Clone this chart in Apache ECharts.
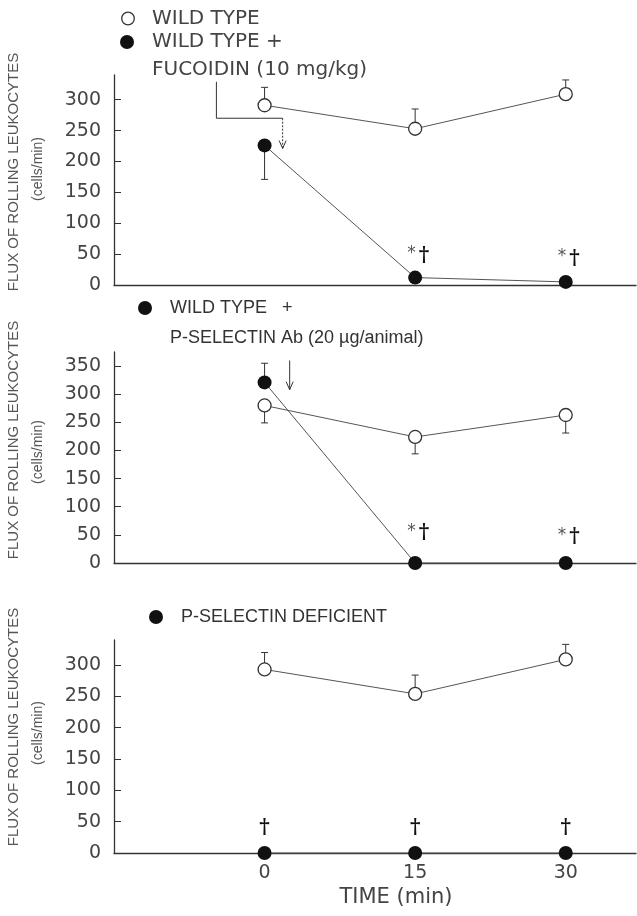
<!DOCTYPE html>
<html><head><meta charset="utf-8">
<script src="https://cdn.jsdelivr.net/npm/echarts@6/dist/echarts.min.js"></script>
<style>html,body{margin:0;padding:0;background:#fff}#c{width:637px;height:916px}</style>
</head><body><div id="c"></div>
<script>
// ---------- data ----------
const times = [0, 15, 30];
const yTicksA = [0, 50, 100, 150, 200, 250, 300];
const yTicksB = [0, 50, 100, 150, 200, 250, 300, 350];
const xTickLabels = [0, 15, 30];
// Panel A: wild type vs wild type + fucoidin
const wildTypeA = [291, 253, 309];
const wildTypeAErr = [320, 285, 332];
const fucoidin = [226, 12, 5];
const fucoidinErr = [171, null, null];
const marksA = [null, '*†', '*†'];
const marksAY = [null, 48, 43];
// Panel B: wild type vs wild type + P-selectin Ab
const wildTypeB = [280, 224, 263];
const wildTypeBErr = [249, 194, 231];
const pselAb = [321, 0, 0];
const pselAbErr = [355, null, null];
const marksB = [null, '*†', '*†'];
const marksBY = [null, 53, 46];
// Panel C: wild type vs P-selectin deficient
const wildTypeC = [293, 254, 309];
const wildTypeCErr = [320, 284, 333];
const pselDef = [0, 0, 0];
const marksC = ['†', '†', '†'];
const marksCY = [40, 40, 40];
// injection arrows (time, value)
const arrowAX = [-4.8, -4.8, 1.8, 1.8];
const arrowAY = [329, 270, 270, 221];
const arrowBX = [2.5, 2.5];
const arrowBY = [360, 308];

// ---------- styles ----------
const INK = '#333';
const TXT = '#444';
const tickFont = { fontFamily: 'DejaVu Sans', fontSize: 19, color: TXT };

const grids = [
  { left: 114, right: 1, top: 75, height: 210 },
  { left: 114, right: 1, top: 352, height: 211 },
  { left: 114, right: 1, top: 640, height: 213 }
];

function xAxisFor(i, showLabels) {
  return {
    type: 'value', gridIndex: i, min: -15, max: 37, interval: 15,
    axisLine: { show: true, onZero: false, lineStyle: { color: INK, width: 1.3 } },
    axisTick: { show: false },
    splitLine: { show: false },
    axisLabel: showLabels ? Object.assign({
      show: true, margin: 11, customValues: xTickLabels,
      formatter: v => (xTickLabels.indexOf(v) >= 0 ? String(v) : '')
    }, tickFont) : { show: false }
  };
}
function yAxisFor(i, max, ticks) {
  return {
    type: 'value', gridIndex: i, min: 0, max: max, interval: 50,
    axisLine: { show: true, onZero: false, lineStyle: { color: INK, width: 1.3 } },
    axisTick: { show: true, inside: true, length: 7, customValues: ticks, lineStyle: { color: INK, width: 1 } },
    splitLine: { show: false },
    axisLabel: Object.assign({
      show: true, margin: 13, customValues: ticks,
      formatter: v => (ticks.indexOf(v) >= 0 ? String(v) : '')
    }, tickFont)
  };
}

function lineSeries(i, vals, filled) {
  return {
    type: 'line', xAxisIndex: i, yAxisIndex: i, z: 4, clip: false,
    data: times.map((t, k) => [t, vals[k]]),
    symbol: 'circle', symbolSize: filled ? 14 : 13, showAllSymbol: true,
    itemStyle: filled ? { color: '#111', borderWidth: 0 } : { color: '#fff', borderColor: INK, borderWidth: 1.3 },
    lineStyle: { color: '#555', width: 1 },
    emphasis: { disabled: true }, silent: true
  };
}

function errSeries(i, vals, errs) {
  const d = [];
  times.forEach((t, k) => { if (errs[k] != null) d.push([t, vals[k], errs[k]]); });
  return {
    type: 'custom', xAxisIndex: i, yAxisIndex: i, z: 2, silent: true, clip: false,
    data: d,
    renderItem: (params, api) => {
      const p0 = api.coord([api.value(0), api.value(1)]);
      const p1 = api.coord([api.value(0), api.value(2)]);
      const w = 3.5;
      return { type: 'group', children: [
        { type: 'line', shape: { x1: p0[0], y1: p0[1], x2: p1[0], y2: p1[1] }, style: { stroke: INK, lineWidth: 1 } },
        { type: 'line', shape: { x1: p1[0] - w, y1: p1[1], x2: p1[0] + w, y2: p1[1] }, style: { stroke: INK, lineWidth: 1 } }
      ]};
    }
  };
}

function markSeries(i, labels, ys) {
  const d = [], lab = [];
  times.forEach((t, k) => { if (labels[k]) { d.push([t, ys[k]]); lab.push(labels[k]); } });
  return {
    type: 'custom', xAxisIndex: i, yAxisIndex: i, z: 5, silent: true, clip: false,
    data: d,
    renderItem: (params, api) => {
      const p = api.coord([api.value(0), api.value(1)]);
      const s = lab[params.dataIndex];
      const txt = s.indexOf('*') >= 0 ? '{a|*}{d|†}' : '{d|†}';
      return { type: 'text', x: p[0] + (s.length > 1 ? 3 : 0), y: p[1], style: {
        text: txt, align: 'center', verticalAlign: 'middle',
        rich: {
          a: { fontFamily: 'DejaVu Sans', fontSize: 17, fill: '#555', padding: [0, 3, 4, 0] },
          d: { fontFamily: 'DejaVu Serif', fontSize: 20, fill: '#111', fontWeight: 'bold' }
        }
      }};
    }
  };
}

function arrowSeries(i, xs, ys, dashLast) {
  return {
    type: 'custom', xAxisIndex: i, yAxisIndex: i, z: 3, silent: true, clip: false,
    data: [[xs[0], ys[0]]],
    renderItem: (params, api) => {
      const pts = xs.map((x, k) => api.coord([x, ys[k]]));
      const children = [];
      const n = pts.length;
      if (n > 2) {
        children.push({ type: 'polyline', shape: { points: pts.slice(0, n - 1) }, style: { stroke: INK, lineWidth: 1, fill: null } });
      }
      const a = pts[n - 2], b = pts[n - 1];
      children.push({ type: 'line', shape: { x1: a[0], y1: a[1], x2: b[0], y2: b[1] },
        style: { stroke: INK, lineWidth: 1, lineDash: dashLast ? [2, 1.5] : null } });
      children.push({ type: 'polyline', shape: { points: [[b[0] - 3.5, b[1] - 8], [b[0], b[1]], [b[0] + 3.5, b[1] - 8]] },
        style: { stroke: INK, lineWidth: 1, fill: null } });
      return { type: 'group', children };
    }
  };
}

// ---------- text graphics ----------
function txt(x, y, s, font, fill) {
  return { type: 'text', x, y, silent: true,
    style: { text: s, font, fill: fill || TXT, align: 'left', verticalAlign: 'middle' } };
}
function circ(x, y, r, filled) {
  return { type: 'circle', silent: true, shape: { cx: x, cy: y, r },
    style: filled ? { fill: '#111' } : { fill: '#fff', stroke: INK, lineWidth: 1.3 } };
}
function ytitle(cyMain, cyUnit) {
  return [
    { type: 'text', x: 14, y: cyMain, rotation: Math.PI / 2, silent: true,
      style: { text: 'FLUX OF ROLLING LEUKOCYTES', font: '15px "Liberation Sans"', fill: '#555', align: 'center', verticalAlign: 'middle' } },
    { type: 'text', x: 38, y: cyUnit, rotation: Math.PI / 2, silent: true,
      style: { text: '(cells/min)', font: '14px "Liberation Sans"', fill: '#555', align: 'center', verticalAlign: 'middle' } }
  ];
}

const graphics = [
  circ(128, 18.5, 6.3, false),
  txt(152, 19, 'WILD TYPE', '20px "DejaVu Sans"'),
  circ(127, 42, 7, true),
  txt(152, 42, 'WILD TYPE +', '20px "DejaVu Sans"'),
  txt(152, 69.5, 'FUCOIDIN (10 mg/kg)', '20px "DejaVu Sans"'),
  circ(145, 308, 7, true),
  txt(170, 308, 'WILD TYPE   +', '18px "Liberation Sans"', '#333'),
  txt(170, 338, 'P-SELECTIN Ab (20 µg/animal)', '18px "Liberation Sans"', '#333'),
  circ(156, 617, 7, true),
  txt(181, 617, 'P-SELECTIN DEFICIENT', '18px "Liberation Sans"', '#333'),
  { type: 'text', x: 396, y: 898, silent: true,
    style: { text: 'TIME (min)', font: '21px "DejaVu Sans"', fill: TXT, align: 'center', verticalAlign: 'middle' } }
].concat(ytitle(172, 169), ytitle(440, 452), ytitle(727, 733));

const option = {
  animation: false,
  backgroundColor: '#fff',
  grid: grids,
  xAxis: [xAxisFor(0, false), xAxisFor(1, false), xAxisFor(2, true)],
  yAxis: [yAxisFor(0, 340, yTicksA), yAxisFor(1, 375, yTicksB), yAxisFor(2, 340, yTicksA)],
  series: [
    errSeries(0, wildTypeA, wildTypeAErr), errSeries(0, fucoidin, fucoidinErr),
    lineSeries(0, wildTypeA, false), lineSeries(0, fucoidin, true),
    markSeries(0, marksA, marksAY), arrowSeries(0, arrowAX, arrowAY, true),
    errSeries(1, wildTypeB, wildTypeBErr), errSeries(1, pselAb, pselAbErr),
    lineSeries(1, wildTypeB, false), lineSeries(1, pselAb, true),
    markSeries(1, marksB, marksBY), arrowSeries(1, arrowBX, arrowBY, false),
    errSeries(2, wildTypeC, wildTypeCErr),
    lineSeries(2, wildTypeC, false), lineSeries(2, pselDef, true),
    markSeries(2, marksC, marksCY)
  ],
  graphic: graphics
};
const chart = echarts.init(document.getElementById('c'), null, { renderer: 'canvas' });
chart.setOption(option);
</script></body></html>
